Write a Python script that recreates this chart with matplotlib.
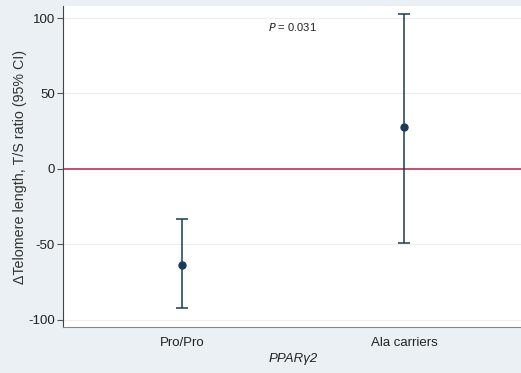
import matplotlib.pyplot as plt

plt.rcParams['font.family'] = ['Liberation Sans', 'DejaVu Sans']
plt.rcParams['axes.unicode_minus'] = False

groups = ['Pro/Pro', 'Ala carriers']
means = [-63.5, 27.5]
lower = [-92.5, -49.5]
upper = [-33.5, 103.0]
yticks = [-100, -50, 0, 50, 100]

bg = '#eaf0f3'
navy = '#1a3a5c'

fig = plt.figure(figsize=(5.21, 3.73), dpi=100, facecolor=bg)
ax = fig.add_axes([0.121, 0.123, 0.885, 0.861])
ax.set_facecolor('white')

x = [1, 2]
yerr = [[m - l for m, l in zip(means, lower)], [u - m for m, u in zip(means, upper)]]
ax.errorbar(x, means, yerr=yerr, fmt='o', color=navy, ecolor=navy, markersize=5,
            elinewidth=1.1, capsize=4, capthick=1.1, zorder=3)

ax.axhline(0, color='#b04860', linewidth=1.3, zorder=2)
for t in yticks:
    if t != 0:
        ax.axhline(t, color='#eeeeee', linewidth=0.8, zorder=1)

ax.set_xlim(0.466, 2.54)
ax.set_ylim(-105, 108)
ax.set_yticks(yticks)
ax.set_xticks(x)
ax.set_xticklabels(groups, fontsize=9.5, color='#222222')
ax.tick_params(axis='x', length=0, pad=7)
ax.tick_params(axis='y', labelsize=9.5, length=4, color='#555555', labelcolor='#222222', pad=2)

for s in ['top', 'right']:
    ax.spines[s].set_visible(False)
ax.spines['left'].set_color('#444444')
ax.spines['bottom'].set_color('#888888')

ax.set_ylabel('\u0394Telomere length, T/S ratio (95% CI)', fontsize=10.3, color='#333333', labelpad=1)
ax.set_xlabel('PPAR\u03b32', fontsize=9.5, style='italic', color='#222222', labelpad=3)

ax.text(0.445, 0.935, '$P$ = 0.031', transform=ax.transAxes, fontsize=8,
        ha='left', va='center', color='#222222')

fig.savefig('out.png', dpi=100, facecolor=bg)
